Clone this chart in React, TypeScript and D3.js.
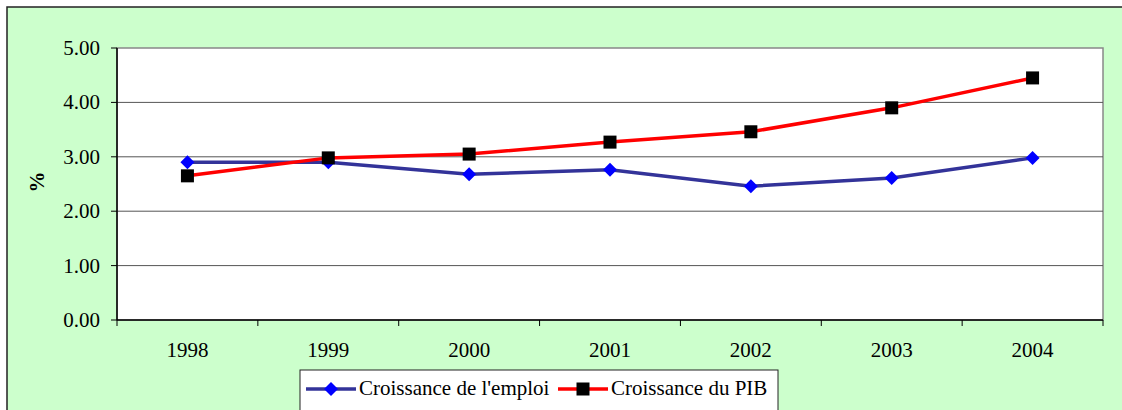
import * as React from "react";
import * as d3 from "d3";

const years = ["1998", "1999", "2000", "2001", "2002", "2003", "2004"];
const emploi = [2.9, 2.9, 2.68, 2.76, 2.46, 2.61, 2.98];
const pib = [2.65, 2.98, 3.05, 3.27, 3.46, 3.9, 4.45];
const yTicks = [0, 1, 2, 3, 4, 5];

const W = 1122;
const H = 410;
const left = 117;
const right = 1103;
const top = 48;
const bottom = 320;
const font = "Liberation Serif, DejaVu Serif, serif";

export default function App() {
  const x = d3.scaleBand().domain(years).range([left, right]);
  const y = d3.scaleLinear().domain([0, 5]).range([bottom, top]);
  const cx = (d: string) => (x(d) as number) + x.bandwidth() / 2;

  const line = d3
    .line<number>()
    .x((d, i) => cx(years[i]))
    .y((d) => y(d));

  const diamond = (px: number, py: number, r: number) =>
    `M${px},${py - r}L${px + r},${py}L${px},${py + r}L${px - r},${py}Z`;

  const boundaries = years.map((d) => x(d) as number).concat([right]);

  return (
    <svg
      width={W}
      height={H}
      style={{ position: "absolute", left: 0, top: 0, display: "block", fontFamily: font }}
    >
      <rect x={7} y={7} width={W + 10} height={H + 10} fill="#ccffcc" stroke="#222" strokeWidth={1.5} />
      <rect x={left} y={top} width={right - left} height={bottom - top} fill="#fff" stroke="#888" strokeWidth={1.5} />

      {yTicks.map((t) => (
        <g key={"y" + t}>
          {t > 0 && t < 5 && (
            <line x1={left} x2={right} y1={y(t)} y2={y(t)} stroke="#555" strokeWidth={1} />
          )}
          <line x1={left - 6} x2={left} y1={y(t)} y2={y(t)} stroke="#000" strokeWidth={1} />
          <text x={100} y={y(t)} dy="0.33em" textAnchor="end" style={{ fontFamily: font }} fontSize={21} fill="#000">
            {t.toFixed(2)}
          </text>
        </g>
      ))}

      <line x1={left} x2={left} y1={top} y2={bottom} stroke="#000" strokeWidth={1.5} />
      <line x1={left} x2={right} y1={bottom} y2={bottom} stroke="#000" strokeWidth={1.5} />
      {boundaries.map((b, i) => (
        <line key={"xt" + i} x1={b} x2={b} y1={bottom} y2={bottom + 6} stroke="#000" strokeWidth={1} />
      ))}
      {years.map((d) => (
        <text key={"xl" + d} x={cx(d)} y={357} textAnchor="middle" style={{ fontFamily: font }} fontSize={21} fill="#000">
          {d}
        </text>
      ))}

      <text
        transform={`translate(44,182) rotate(-90)`}
        textAnchor="middle"
        style={{ fontFamily: font }}
        fontSize={21}
        fontWeight="bold"
        fill="#000"
      >
        %
      </text>

      <path d={line(emploi) as string} fill="none" stroke="#333399" strokeWidth={3.5} />
      <path d={line(pib) as string} fill="none" stroke="#ff0000" strokeWidth={3.5} />
      {emploi.map((v, i) => (
        <path key={"e" + i} d={diamond(cx(years[i]), y(v), 7)} fill="#0000ff" />
      ))}
      {pib.map((v, i) => (
        <rect key={"p" + i} x={cx(years[i]) - 6.5} y={y(v) - 6.5} width={13} height={13} fill="#000" />
      ))}

      <g>
        <rect x={300} y={370} width={478} height={50} fill="#fff" stroke="#222" strokeWidth={1} />
        <line x1={306} x2={356} y1={389} y2={389} stroke="#333399" strokeWidth={3.5} />
        <path d={diamond(331, 389, 7)} fill="#0000ff" />
        <text x={359} y={395} style={{ fontFamily: font }} fontSize={21} fill="#000">
          Croissance de l'emploi
        </text>
        <line x1={558} x2={608} y1={389} y2={389} stroke="#ff0000" strokeWidth={3.5} />
        <rect x={576.5} y={382.5} width={13} height={13} fill="#000" />
        <text x={611} y={395} style={{ fontFamily: font }} fontSize={21} fill="#000">
          Croissance du PIB
        </text>
      </g>
    </svg>
  );
}
